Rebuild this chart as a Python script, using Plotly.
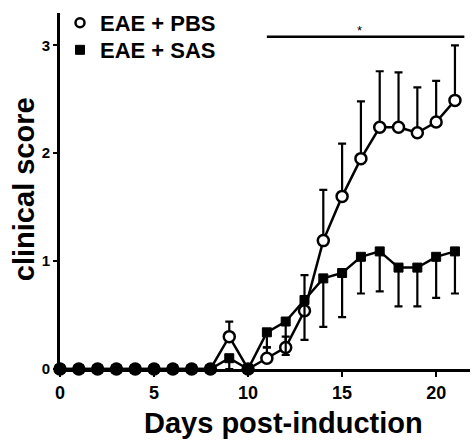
import plotly.graph_objects as go

days = list(range(0, 22))
pbs_mean = [0, 0, 0, 0, 0, 0, 0, 0, 0, 0.30, 0, 0.10, 0.20, 0.54, 1.19, 1.60, 1.95, 2.24, 2.24, 2.19, 2.29, 2.49]
pbs_err  = [0, 0, 0, 0, 0, 0, 0, 0, 0, 0.14, 0, 0.10, 0.10, 0.33, 0.47, 0.49, 0.53, 0.52, 0.51, 0.42, 0.38, 0.51]
sas_mean = [0, 0, 0, 0, 0, 0, 0, 0, 0, 0.10, 0, 0.34, 0.44, 0.64, 0.84, 0.89, 1.04, 1.09, 0.94, 0.94, 1.04, 1.09]
sas_err  = [0, 0, 0, 0, 0, 0, 0, 0, 0, 0.10, 0, 0.14, 0.31, 0.37, 0.45, 0.41, 0.34, 0.37, 0.36, 0.36, 0.38, 0.39]

series_names = ["EAE + PBS", "EAE + SAS"]
sig_x = [11.0, 21.5]
sig_y = 3.08
sig_label = "*"
x_ticks = [0, 5, 10, 15, 20]
y_ticks = [0, 1, 2, 3]
x_title = "Days post-induction"
y_title = "clinical score"

FONT = "Liberation Sans, Arial, sans-serif"

pbs_fill = ["black" if (p == 0 and s == 0) else "white" for p, s in zip(pbs_mean, sas_mean)]

fig = go.Figure()
fig.add_trace(go.Scatter(
    x=days, y=pbs_mean, mode="lines+markers", showlegend=False,
    line=dict(color="black", width=2.5),
    marker=dict(symbol="circle", size=11, color=pbs_fill, line=dict(color="black", width=2.5)),
    error_y=dict(type="data", array=pbs_err, arrayminus=[0] * len(pbs_err), symmetric=False,
                 color="black", thickness=2.2, width=4),
    cliponaxis=False,
))
fig.add_trace(go.Scatter(
    x=days, y=sas_mean, mode="lines+markers", showlegend=False,
    line=dict(color="black", width=2.5),
    marker=dict(symbol="square", size=9, color="black", line=dict(color="black", width=1)),
    error_y=dict(type="data", array=[0] * len(sas_err), arrayminus=sas_err, symmetric=False,
                 color="black", thickness=2.2, width=4),
    cliponaxis=False,
))
# legend entries (one legend box per row to match the tight row spacing)
fig.add_trace(go.Scatter(
    x=[None], y=[None], mode="markers", name=f"<b>{series_names[0]}</b>", legend="legend",
    marker=dict(symbol="circle", size=9, color="white", line=dict(color="black", width=2.5)),
))
fig.add_trace(go.Scatter(
    x=[None], y=[None], mode="markers", name=f"<b>{series_names[1]}</b>", legend="legend2",
    marker=dict(symbol="square", size=9, color="black", line=dict(color="black", width=1)),
))

fig.add_shape(type="line", x0=sig_x[0], x1=sig_x[1], y0=sig_y, y1=sig_y,
              xref="x", yref="y", line=dict(color="black", width=2.5))
fig.add_annotation(x=(sig_x[0] + sig_x[1]) / 2 - 0.3, y=sig_y, text=sig_label, showarrow=False,
                   yanchor="bottom", yshift=-3, font=dict(family=FONT, size=13, color="black"))

fig.add_annotation(xref="paper", yref="paper", x=0.546, y=-0.153, text=f"<b>{x_title}</b>",
                   showarrow=False, xanchor="center", yanchor="middle",
                   font=dict(family=FONT, size=29, color="black"))
fig.add_annotation(xref="paper", yref="paper", x=-0.088, y=0.505, text=f"<b>{y_title}</b>",
                   showarrow=False, textangle=-90, xanchor="center", yanchor="middle",
                   font=dict(family=FONT, size=29, color="black"))

legend_common = dict(xanchor="left", yanchor="top",
                     font=dict(family=FONT, size=22, color="black"),
                     bgcolor="rgba(0,0,0,0)", itemwidth=30, tracegroupgap=0)

fig.update_layout(
    width=472, height=441,
    margin=dict(l=60, r=2, t=10, b=72),
    paper_bgcolor="white", plot_bgcolor="white",
    font=dict(family=FONT, color="black"),
    showlegend=True,
    legend=dict(x=0.0, y=1.031, **legend_common),
    legend2=dict(x=0.0, y=0.955, **legend_common),
    xaxis=dict(range=[0, 21.8], tickvals=x_ticks, ticktext=[f"<b>{v}</b>" for v in x_ticks],
               showline=True, linecolor="black", linewidth=3, ticks="outside", ticklen=5,
               tickwidth=2, tickcolor="black", showgrid=False, zeroline=False,
               tickfont=dict(family=FONT, size=18, color="black")),
    yaxis=dict(range=[0, 3.3], tickvals=y_ticks, ticktext=[f"<b>{v}</b>" for v in y_ticks],
               showline=True, linecolor="black", linewidth=3, ticks="outside", ticklen=4,
               tickwidth=2, tickcolor="black", showgrid=False, zeroline=False,
               tickfont=dict(family=FONT, size=15, color="black")),
)

fig.write_html("out.html", config={"displayModeBar": False},
               post_script="document.body.style.margin='0';")
